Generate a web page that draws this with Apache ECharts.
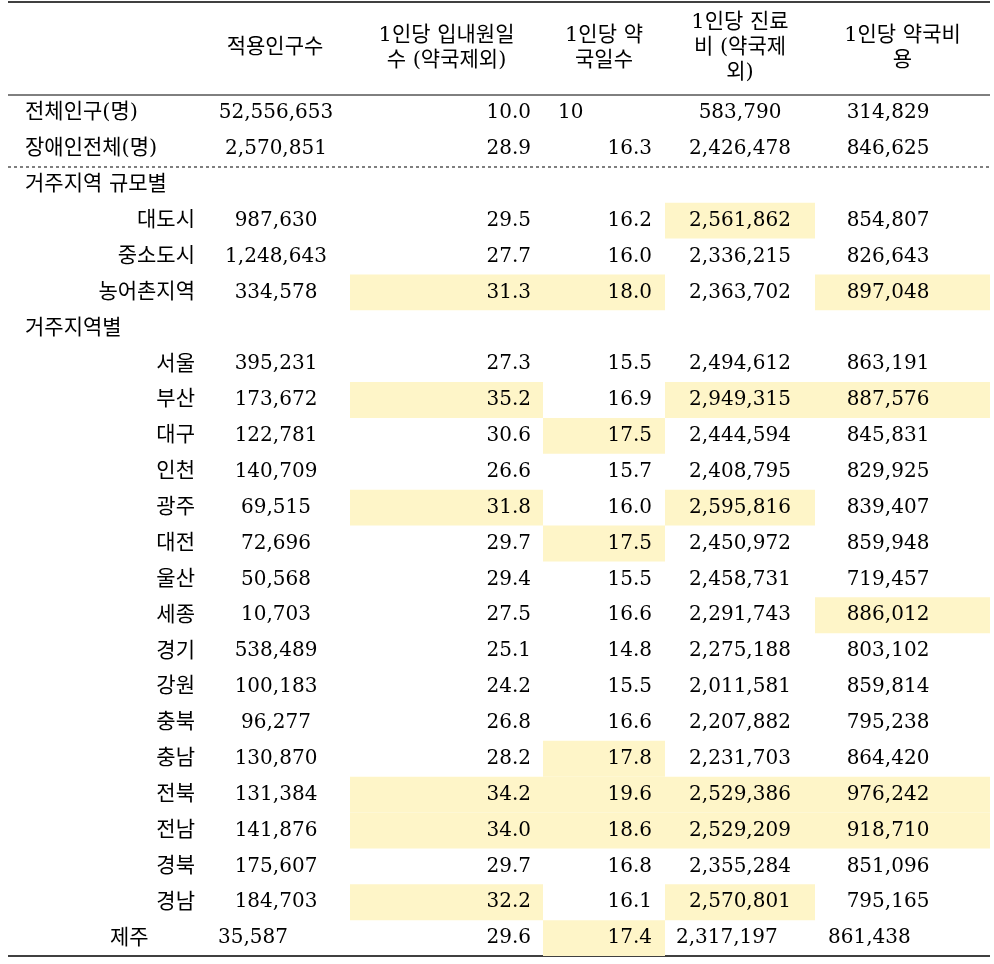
<![CDATA[<!DOCTYPE html><html><head><meta charset="utf-8">
<script src="https://cdn.jsdelivr.net/npm/echarts@6/dist/echarts.min.js"></script>
<style>html,body{margin:0;background:#fff}#c{width:994px;height:964px}</style></head><body><div id="c"></div>
<script>
const headers=["적용인구수","1인당 입내원일\n수 (약국제외)","1인당 약\n국일수","1인당 진료\n비 (약국제\n외)","1인당 약국비\n용"];
const rowLabels=["전체인구(명)","장애인전체(명)","거주지역 규모별","대도시","중소도시","농어촌지역","거주지역별","서울","부산","대구","인천","광주","대전","울산","세종","경기","강원","충북","충남","전북","전남","경북","경남","제주"];
const rowLevel=[0,0,0,1,1,1,0,2,2,2,2,2,2,2,2,2,2,2,2,2,2,2,2,3];
const population=["52,556,653","2,570,851","","987,630","1,248,643","334,578","","395,231","173,672","122,781","140,709","69,515","72,696","50,568","10,703","538,489","100,183","96,277","130,870","131,384","141,876","175,607","184,703","35,587"];
const visitDays=["10.0","28.9","","29.5","27.7","31.3","","27.3","35.2","30.6","26.6","31.8","29.7","29.4","27.5","25.1","24.2","26.8","28.2","34.2","34.0","29.7","32.2","29.6"];
const pharmDays=["10","16.3","","16.2","16.0","18.0","","15.5","16.9","17.5","15.7","16.0","17.5","15.5","16.6","14.8","15.5","16.6","17.8","19.6","18.6","16.8","16.1","17.4"];
const medCost=["583,790","2,426,478","","2,561,862","2,336,215","2,363,702","","2,494,612","2,949,315","2,444,594","2,408,795","2,595,816","2,450,972","2,458,731","2,291,743","2,275,188","2,011,581","2,207,882","2,231,703","2,529,386","2,529,209","2,355,284","2,570,801","2,317,197"];
const pharmCost=["314,829","846,625","","854,807","826,643","897,048","","863,191","887,576","845,831","829,925","839,407","859,948","719,457","886,012","803,102","859,814","795,238","864,420","976,242","918,710","851,096","795,165","861,438"];
const highlights=[[3,3],[5,1],[5,2],[5,4],[8,1],[8,3],[8,4],[9,2],[11,1],[11,3],[12,2],[14,4],[18,2],[19,1],[19,2],[19,3],[19,4],[20,1],[20,2],[20,3],[20,4],[22,1],[22,3],[23,2]];

// layout (not data)
const colEdges=[[200,350],[350,543],[543,665],[665,815],[815,990]];
const colText=[{x:276,a:'center'},{x:531,a:'right'},{x:652,a:'right'},{x:740,a:'center'},{x:888,a:'center'}];
const FONT='"DejaVu Serif","Noto Sans CJK KR",serif';
const FS=20;
const cols=[population,visitDays,pharmDays,medCost,pharmCost];
const hl=new Set(highlights.map(h=>h[0]+'_'+h[1]));

const chart=echarts.init(document.getElementById('c'));
const headerGraphics=headers.map((h,i)=>({type:'text',style:{text:h,x:(colEdges[i][0]+colEdges[i][1])/2,y:48,align:'center',verticalAlign:'middle',font:'21px '+FONT,fill:'#000',lineHeight:25}}));
chart.setOption({
  animation:false,
  grid:{left:0,right:0,top:95,bottom:8},
  xAxis:{type:'value',min:0,max:994,show:false},
  yAxis:{type:'category',data:rowLabels,inverse:true,show:false},
  graphic:headerGraphics.concat([
    {type:'line',shape:{x1:8,y1:2,x2:990,y2:2},style:{stroke:'#000',lineWidth:1.5}},
    {type:'line',shape:{x1:8,y1:95,x2:990,y2:95},style:{stroke:'#000',lineWidth:1}},
    {type:'line',shape:{x1:8,y1:167,x2:990,y2:167},style:{stroke:'#000',lineWidth:1,lineDash:[3,3]}},
    {type:'line',shape:{x1:8,y1:956,x2:990,y2:956},style:{stroke:'#000',lineWidth:1.5}}
  ]),
  series:[{type:'custom',coordinateSystem:'cartesian2d',
    data:rowLabels.map((l,i)=>[0,i]),
    renderItem:function(params,api){
      const r=api.value(1);
      const c=api.coord([0,r]);const h=api.size([0,1])[1];const y=c[1];
      const children=[];
      for(let k=0;k<5;k++){
        if(hl.has(r+'_'+k)){
          const x0=api.coord([colEdges[k][0],r])[0],x1=api.coord([colEdges[k][1],r])[0];
          children.push({type:'rect',shape:{x:x0,y:y-h/2,width:x1-x0,height:h},style:{fill:'#fef5c8'}});
        }
      }
      const lv=rowLevel[r];
      let lx,la;
      if(lv===0){lx=25;la='left';}else if(lv===3){lx=110;la='left';}else{lx=195;la='right';}
      children.push({type:'text',style:{text:rowLabels[r],x:lx,y:y,align:la,verticalAlign:'middle',font:'21px '+FONT,fill:'#000'}});
      for(let k=0;k<5;k++){
        const v=cols[k][r]; if(!v) continue;
        let tx=colText[k].x,ta=colText[k].a;
        if(r===0&&k===2){tx=558;ta='left';}
        if(r===23&&k===0){tx=218;ta='left';}
        if(r===23&&k===3){tx=676;ta='left';}
        if(r===23&&k===4){tx=828;ta='left';}
        children.push({type:'text',style:{text:v,x:tx,y:y,align:ta,verticalAlign:'middle',font:FS+'px '+FONT,fill:'#000'}});
      }
      return {type:'group',children:children};
    }
  }]
});
</script></body></html>]]>
